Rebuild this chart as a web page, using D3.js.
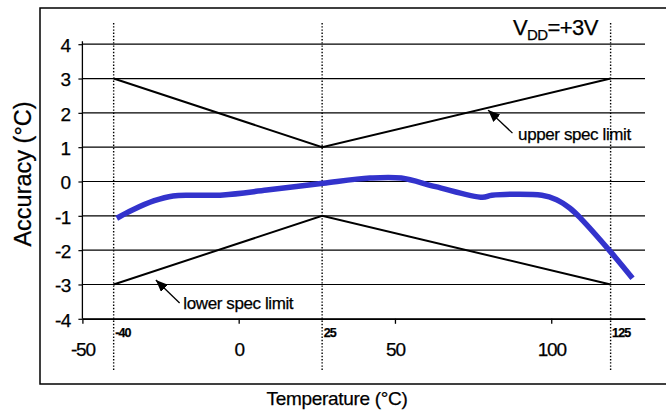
<!DOCTYPE html>
<html>
<head>
<meta charset="utf-8">
<script src="https://cdn.jsdelivr.net/npm/d3@7"></script>
<style>
	body { margin: 0; background: #fff; }
	svg { display: block; font-family: "Liberation Sans", Arial, sans-serif; }
	text { fill: #000; stroke: #000; stroke-width: 0.25px; }
</style>
</head>
<body>
<svg width="666" height="414"></svg>
<script>
const curveTemp = [-39, -34, -27, -21, -15, -5, 9, 27, 42, 52, 63, 78, 81, 97, 101.7, 106, 109.5, 119, 126];
const curveAcc = [-1.07, -0.83, -0.56, -0.42, -0.4, -0.39, -0.25, -0.05, 0.1, 0.1, -0.15, -0.46, -0.4, -0.4, -0.53, -0.78, -1.08, -2.05, -2.82];

// spec limit corners, sitting on the dotted marker lines
const specTemp = [-40, 26.7, 119];
const upperSpec = [3, 1, 3];
const lowerSpec = [-3, -1, -3];
const markerLabels = ["-40", "25", "125"];

const xTicks = [-50, 0, 50, 100];
const yTicks = [-4, -3, -2, -1, 0, 1, 2, 3, 4];

const svg = d3.select("svg");
const x = d3.scaleLinear().domain([-50, 130]).range([82.4, 645]);
const y = d3.scaleLinear().domain([-4, 4]).range([318.8, 44.2]);

// outer frame (right edge runs off the picture)
svg.append("rect")
	.attr("x", 40)
	.attr("y", 8)
	.attr("width", 700)
	.attr("height", 376)
	.attr("fill", "none")
	.attr("stroke", "#000")
	.attr("stroke-width", 1.5);

svg.append("defs")
	.append("marker")
	.attr("id", "arrow")
	.attr("markerUnits", "userSpaceOnUse")
	.attr("viewBox", "0 0 12 10")
	.attr("refX", 12)
	.attr("refY", 5)
	.attr("markerWidth", 12)
	.attr("markerHeight", 10)
	.attr("orient", "auto")
	.append("path")
	.attr("d", "M0,0 L12,5 L0,10 z")
	.attr("fill", "#000");

// horizontal grid
svg.append("g")
	.selectAll("line")
	.data(yTicks)
	.join("line")
	.attr("x1", x(-50))
	.attr("x2", x(130))
	.attr("y1", (d) => y(d))
	.attr("y2", (d) => y(d))
	.attr("stroke", "#000")
	.attr("stroke-width", 1.2);

// y axis
const gy = svg.append("g")
	.attr("transform", "translate(" + x(-50) + ",0)")
	.call(d3.axisLeft(y).tickValues(yTicks).tickSize(4).tickSizeOuter(0).tickPadding(8).tickFormat((d) => String(d)));
gy.select(".domain").attr("stroke-width", 1.3).attr("d", "M0," + (y(4) - 3) + "V" + y(-4));
gy.selectAll(".tick line").attr("stroke-width", 1.2);
gy.selectAll(".tick text")
	.attr("font-size", "19px")
	.attr("font-family", "Liberation Sans, Arial, sans-serif")
	.attr("letter-spacing", "-0.8")
	.attr("dy", "0.38em");

// x axis
const gx = svg.append("g")
	.attr("transform", "translate(0," + y(-4) + ")")
	.call(d3.axisBottom(x).tickValues(xTicks).tickSize(5).tickSizeOuter(0).tickPadding(19).tickFormat((d) => String(d)));
gx.select(".domain").attr("stroke-width", 1.3);
gx.selectAll(".tick line").attr("stroke-width", 1.3);
gx.selectAll(".tick text")
	.attr("font-size", "19px")
	.attr("font-family", "Liberation Sans, Arial, sans-serif")
	.attr("letter-spacing", "-1.2");

// dotted marker lines at -40, 25, 125
svg.append("g")
	.selectAll("line")
	.data(specTemp)
	.join("line")
	.attr("x1", (d) => x(d))
	.attr("x2", (d) => x(d))
	.attr("y1", 23)
	.attr("y2", 370)
	.attr("stroke", "#000")
	.attr("stroke-width", 1.4)
	.attr("stroke-dasharray", "1.4,1.8");

svg.append("g")
	.selectAll("text")
	.data(specTemp)
	.join("text")
	.attr("x", (d) => x(d) + 1.5)
	.attr("y", 337)
	.attr("font-size", "12.5px")
	.attr("font-weight", "bold")
	.attr("letter-spacing", "-0.9")
	.text((d, i) => markerLabels[i]);

// spec limit lines
const specLine = d3.line()
	.x((d, i) => x(specTemp[i]))
	.y((d) => y(d));

svg.append("path")
	.datum(upperSpec)
	.attr("d", specLine)
	.attr("fill", "none")
	.attr("stroke", "#000")
	.attr("stroke-width", 2);
svg.append("path")
	.datum(lowerSpec)
	.attr("d", specLine)
	.attr("fill", "none")
	.attr("stroke", "#000")
	.attr("stroke-width", 2);

// measured curve
const accLine = d3.line()
	.x((d, i) => x(curveTemp[i]))
	.y((d) => y(d))
	.curve(d3.curveCatmullRom.alpha(0.5));

svg.append("path")
	.datum(curveAcc)
	.attr("d", accLine)
	.attr("fill", "none")
	.attr("stroke", "#3333cc")
	.attr("stroke-width", 5.5);

// annotations
svg.append("line")
	.attr("x1", x(87.6))
	.attr("y1", y(1.41))
	.attr("x2", x(79.8))
	.attr("y2", y(2.08))
	.attr("stroke", "#000")
	.attr("stroke-width", 1.3)
	.attr("marker-end", "url(#arrow)");
svg.append("text")
	.attr("x", x(89.4))
	.attr("y", y(1.22))
	.attr("font-size", "17px")
	.attr("letter-spacing", "-0.4")
	.text("upper spec limit");

svg.append("line")
	.attr("x1", x(-18.9))
	.attr("y1", y(-3.54))
	.attr("x2", x(-26.5))
	.attr("y2", y(-2.87))
	.attr("stroke", "#000")
	.attr("stroke-width", 1.3)
	.attr("marker-end", "url(#arrow)");
svg.append("text")
	.attr("x", x(-17.7))
	.attr("y", y(-3.7))
	.attr("font-size", "17px")
	.attr("letter-spacing", "-0.4")
	.text("lower spec limit");

// supply note
const vdd = svg.append("text")
	.attr("x", 513)
	.attr("y", 35)
	.attr("font-size", "22px")
	.attr("letter-spacing", "-0.6");
vdd.append("tspan").text("V");
vdd.append("tspan").attr("font-size", "15px").attr("dy", 5).text("DD");
vdd.append("tspan").attr("dy", -5).text("=+3V");

// axis titles
svg.append("text")
	.attr("x", 337)
	.attr("y", 405)
	.attr("text-anchor", "middle")
	.attr("font-size", "19px")
	.attr("letter-spacing", "-0.3")
	.text("Temperature (°C)");

svg.append("text")
	.attr("transform", "translate(31,174) rotate(-90)")
	.attr("text-anchor", "middle")
	.attr("font-size", "23.5px")
	.text("Accuracy (°C)");
</script>
</body>
</html>
